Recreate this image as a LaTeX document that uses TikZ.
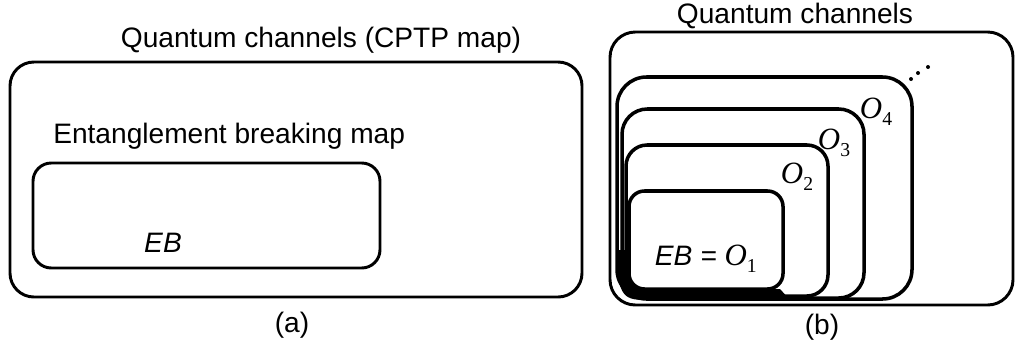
\documentclass[tikz,border=0pt]{standalone}
\usepackage{fontspec}
\setmainfont{Liberation Sans}
\newfontfamily\serifO{Liberation Serif}
\usetikzlibrary{positioning}
\newcommand{\Olab}[1]{{\serifO\fontsize{22}{24}\selectfont\itshape O}\raisebox{-0.45ex}{\serifO\upshape\fontsize{14}{16}\selectfont #1}}
\tikzset{box/.style={line width=2.1pt,rounded corners=17pt},
         obox/.style={box,line width=2.5pt},
         lbl/.style={font=\fontsize{20}{23}\selectfont,inner sep=0pt}}

\begin{document}
\begin{tikzpicture}[x=0.025cm,y=-0.025cm]
\useasboundingbox (0,0) rectangle (1016,343);

% (a)
\draw[box] (10,62) rectangle (582,297);
\draw[box,rounded corners=13pt] (33,163) rectangle (380,268);
\node[lbl] (cptp) at (321,40) {Quantum channels (CPTP map)};
\node[lbl,anchor=west] (ebmap) at (53,136) {Entanglement breaking map};
\node[lbl] (eb) at (163,243) {\itshape EB};
\node[lbl] (capa) at (292,325) {(a)};

% (b)
\draw[box,rounded corners=18pt] (610,32) rectangle (1013,305);
\draw[obox,rounded corners=21pt] (617,77) rectangle (912,299);
\draw[obox,rounded corners=18pt] (622,109) rectangle (864,298);
\draw[obox,rounded corners=15pt] (626,145) rectangle (828,296);
\draw[obox,rounded corners=11pt] (629,191) rectangle (783,289);
% dark band at the bottom left
\fill (617,250) .. controls (617,300) and (625,300) .. (650,300) -- (790,300)
   -- (780,289) -- (645,289) .. controls (630,289) and (629,280) .. (629,250) -- cycle;
\node[lbl] (qc) at (795,16) {Quantum channels};
\node[lbl] (o4) at (876,112) {\Olab{4}};
\node[lbl] (o3) at (834,143) {\Olab{3}};
\node[lbl] (o2) at (797,177) {\Olab{2}};
\node[lbl,anchor=east] (o1) at (757,259) {\itshape EB = \Olab{1}};
\fill (911,79) circle (2) (918,73) circle (2) (928,67) circle (2);
\node[lbl] (capb) at (822,327) {(b)};
\end{tikzpicture}
\end{document}
